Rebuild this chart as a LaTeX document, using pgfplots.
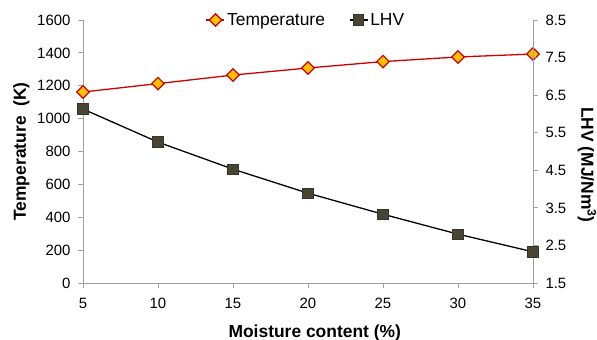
\documentclass[border=0pt]{standalone}
\usepackage{fontspec}
\setmainfont{Liberation Sans}
\usepackage{pgfplots}
\pgfplotsset{compat=1.18}
\definecolor{tred}{HTML}{CC0000}
\definecolor{tgold}{HTML}{FFC000}
\definecolor{lfill}{HTML}{4A4530}
\definecolor{axgray}{HTML}{A0A0A0}
\begin{document}
\begin{tikzpicture}
\useasboundingbox (-83bp,-57bp) rectangle (514bp,283bp);
\pgfplotsset{
  every axis/.append style={
    width=450bp, height=263bp, scale only axis,
    xmin=5, xmax=35, xtick={5,10,...,35},
    axis line style={axgray, line width=0.8pt},
    tick style={axgray, line width=0.8pt},
    major tick length=5bp,
    tick align=outside,
    /pgf/number format/assume math mode=true,
    /pgf/number format/1000 sep={},
    ticklabel style={font=\fontsize{15}{18}\selectfont},
    label style={font=\fontsize{17.5}{20}\selectfont\bfseries},
  }
}
\begin{axis}[
  axis x line*=bottom, axis y line*=left,
  ymin=0, ymax=1600, ytick={0,200,...,1600},
  xlabel={Moisture content (\%)},
  ylabel={Temperature\ \ (K)},
  xticklabel style={yshift=-7bp},
  yticklabel style={xshift=-4bp},
  xlabel style={at={(axis description cs:0.515,-0.19)}, anchor=center},
  ylabel style={at={(axis description cs:-0.1367,0.5)}, anchor=center},
  clip=false,
]
\addplot[tred, line width=1.3pt, mark=square*, mark size=4.4bp,
  mark options={rotate=45, fill=tgold, draw=tred, line width=1.2pt}]
  coordinates {(5,1162) (10,1213) (15,1265) (20,1308) (25,1347) (30,1375) (35,1393)};
\end{axis}
\begin{axis}[
  axis x line=none, axis y line*=right,
  ymin=1.5, ymax=8.5, ytick={1.5,2.5,...,8.5},
  yticklabel style={xshift=4bp, /pgf/number format/.cd, fixed, fixed zerofill, precision=1},
  ylabel={LHV (MJ/Nm$^\mathbf{3}$)},
  ylabel style={at={(axis description cs:1.12,0.449)}, anchor=center, rotate=180},
  clip=false,
  legend style={at={(0.5,1)}, anchor=center, draw=none, fill=none,
    legend columns=2, font=\fontsize{17.5}{20}\selectfont,
    /tikz/every even column/.append style={column sep=22bp},
    inner sep=0pt, xshift=-2bp},
  legend image code/.code={\draw[mark repeat=2,mark phase=2] plot coordinates {(0bp,0bp)(9bp,0bp)(18bp,0bp)};},
]
\addlegendimage{tred, line width=1.3pt, mark=square*, mark size=4.4bp,
  mark options={rotate=45, fill=tgold, draw=tred, line width=1.2pt}}
\addlegendentry{Temperature}
\addplot[black, line width=1.3pt, mark=square*, mark size=5.2bp,
  mark options={fill=lfill, draw=black!80, line width=0.9pt}]
  coordinates {(5,6.13) (10,5.25) (15,4.53) (20,3.89) (25,3.33) (30,2.80) (35,2.33)};
\addlegendentry{LHV}
\end{axis}
\end{tikzpicture}
\end{document}
